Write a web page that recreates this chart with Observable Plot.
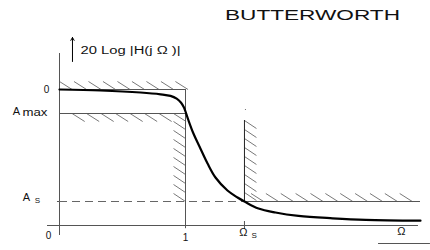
<!DOCTYPE html>
<html>
<head>
<meta charset="utf-8">
<script src="https://cdn.jsdelivr.net/npm/d3@7"></script>
<script src="https://cdn.jsdelivr.net/npm/@observablehq/plot@0.6"></script>
<style>
  html, body { margin: 0; padding: 0; background: #fff; }
  svg { display: block; }
</style>
</head>
<body>
<div id="chart"></div>
<script>
// ---- data ----
const title = "BUTTERWORTH";
const yAxisLabel = "20 Log |H(j \u03A9 )|";
// normalised frequency Omega and magnitude (dB-like units)
const omega  = [0, 0.325, 0.643, 0.802, 0.881, 0.930, 0.965, 0.988, 1.0, 1.024, 1.063, 1.111, 1.175, 1.238, 1.333, 1.413, 1.468, 1.579, 1.714, 1.897, 2.167, 2.429, 2.865];
const gainDb = [0, -0.125, -0.375, -0.6, -0.8, -1.15, -1.65, -2.25, -2.75, -3.875, -5.5, -7.125, -9.25, -11, -12.625, -13.5, -14, -14.875, -15.375, -15.8, -16.1, -16.3, -16.4];
// specification levels
const levelZero = 0;
const levelAmax = -3;
const levelAs = -14;
const passEdge = 1;       // Omega = 1
const stopEdge = 1.468;   // Omega_s
const stopTop = -3.875;   // top of stop-band wall
const omegaMax = 2.865;   // end of the stop-band spec / curve
const axisBottom = -17;   // y where the Omega axis sits
const axisTop = 4.5;      // top of the magnitude axis
const axisLeft = -0.095;
const axisRight = 2.849;

const curve = omega.map((w, i) => ({w, g: gainDb[i]}));

// hatch segments (decoration) in data units
const hx = 0.1, hy = 1;
const hatchTop = d3.range(0, 0.95, 0.115).map(x => ({x1: x, y1: levelZero + hy, x2: x + hx, y2: levelZero}));
const hatchAmax = d3.range(0.1, 1.0, 0.115).map(x => ({x1: x, y1: levelAmax, x2: x + hx, y2: levelAmax - hy}));
const hatchPassWall = d3.range(0, 9).map(k => levelAs + k * 1.125).map(y => ({x1: passEdge - 0.095, y1: y + hy, x2: passEdge, y2: y}));
const hatchStopWall = d3.range(0, 9).map(k => stopTop - k * 1.125).map(y => ({x1: stopEdge, y1: y, x2: stopEdge + 0.095, y2: y - hy}));
const hatchAs = d3.range(1.52, 2.78, 0.118).map(x => ({x1: x, y1: levelAs + hy, x2: x + hx, y2: levelAs}));
const hatches = [...hatchTop, ...hatchAmax, ...hatchPassWall, ...hatchStopWall, ...hatchAs];

const font = "'Liberation Sans', Arial, sans-serif";
const W = 430, H = 250;
const x0px = 59, pxPerX = 126, y0px = 89, pxPerY = 8;

const plot = Plot.plot({
  width: W, height: H,
  margin: 0,
  x: {domain: [-x0px / pxPerX, (W - x0px) / pxPerX], axis: null},
  y: {domain: [(y0px - H) / pxPerY, y0px / pxPerY], axis: null},
  style: {fontFamily: font, background: "#fff"},
  marks: [
    // hatching
    Plot.link(hatches, {x1: "x1", y1: "y1", x2: "x2", y2: "y2", stroke: "#555", strokeWidth: 0.8}),
    // axes
    Plot.ruleY([axisBottom], {x1: axisLeft, x2: axisRight, stroke: "#555", strokeWidth: 1}),
    Plot.ruleX([0], {y1: -18.25, y2: axisTop, stroke: "#555", strokeWidth: 1}),
    Plot.ruleY([levelAs], {x1: -0.016, x2: 0.032, stroke: "#555"}),
    // spec boxes
    Plot.ruleY([levelZero, levelAmax], {x1: 0, x2: passEdge, stroke: "#555", strokeWidth: 1}),
    Plot.ruleX([passEdge], {y1: levelZero, y2: axisBottom - 0.4, stroke: "#555", strokeWidth: 1}),
    Plot.ruleX([stopEdge], {y1: levelAs, y2: stopTop, stroke: "#222", strokeWidth: 1}),
    Plot.ruleX([stopEdge], {y1: axisBottom + 0.5, y2: axisBottom - 0.5, stroke: "#555"}),
    Plot.dot([{x: 1.476, y: -2.5}], {x: "x", y: "y", r: 0.6, fill: "#666"}),
    Plot.ruleY([levelAs], {x1: 0, x2: stopEdge, stroke: "#666", strokeDasharray: "8,5"}),
    Plot.ruleY([levelAs], {x1: stopEdge, x2: omegaMax, stroke: "#555"}),
    // response curve
    Plot.line(curve, {x: "w", y: "g", curve: "catmull-rom", stroke: "#000", strokeWidth: 2.2}),
    // y-axis arrow and label
    Plot.arrow([{x1: 0.103, y1: 3.5, x2: 0.103, y2: 6.5}], {x1: "x1", y1: "y1", x2: "x2", y2: "y2", stroke: "#000", strokeWidth: 1, headLength: 5}),
    Plot.text([yAxisLabel], {x: 0.167, y: 4.875, textAnchor: "start", fontSize: 10, fill: "#111"}),
    // title
    Plot.text([title], {x: 2.008, y: 9.25, fontSize: 14, fill: "#111"}),
    // level labels
    Plot.text(["0"], {x: -0.103, y: levelZero, fontSize: 10, fill: "#111"}),
    Plot.text(["A"], {x: -0.341, y: -2.75, fontSize: 11, fill: "#111"}),
    Plot.text(["max"], {x: -0.294, y: -2.95, textAnchor: "start", fontSize: 10, fill: "#111"}),
    Plot.text(["A"], {x: -0.262, y: -13.5, fontSize: 11, fill: "#111"}),
    Plot.text(["S"], {x: -0.175, y: -13.9, fontSize: 8, fill: "#111"}),
    // frequency labels
    Plot.text(["0"], {x: -0.087, y: -18.25, fontSize: 10, fill: "#111"}),
    Plot.text(["1"], {x: passEdge, y: -18.5, fontSize: 10, fill: "#111"}),
    Plot.text(["\u03A9"], {x: 1.46, y: -17.9, fontSize: 11, fill: "#111"}),
    Plot.text(["S"], {x: 1.545, y: -18.3, fontSize: 8, fill: "#111"}),
    Plot.text(["\u03A9"], {x: 2.714, y: -17.75, fontSize: 11, fill: "#111"}),
    Plot.ruleY([-19.25], {x1: 2.532, x2: 2.944, stroke: "#555"})
  ]
});

// stretch some texts horizontally as in the reference
const stretch = {"BUTTERWORTH": 175, "max": 25};
plot.querySelectorAll("text").forEach(t => {
  const s = t.textContent;
  if (stretch[s]) { t.setAttribute("textLength", stretch[s]); t.setAttribute("lengthAdjust", "spacingAndGlyphs"); }
  if (s === yAxisLabel) { t.setAttribute("textLength", 100); t.setAttribute("lengthAdjust", "spacingAndGlyphs"); }
});
document.getElementById("chart").appendChild(plot);
</script>
</body>
</html>
